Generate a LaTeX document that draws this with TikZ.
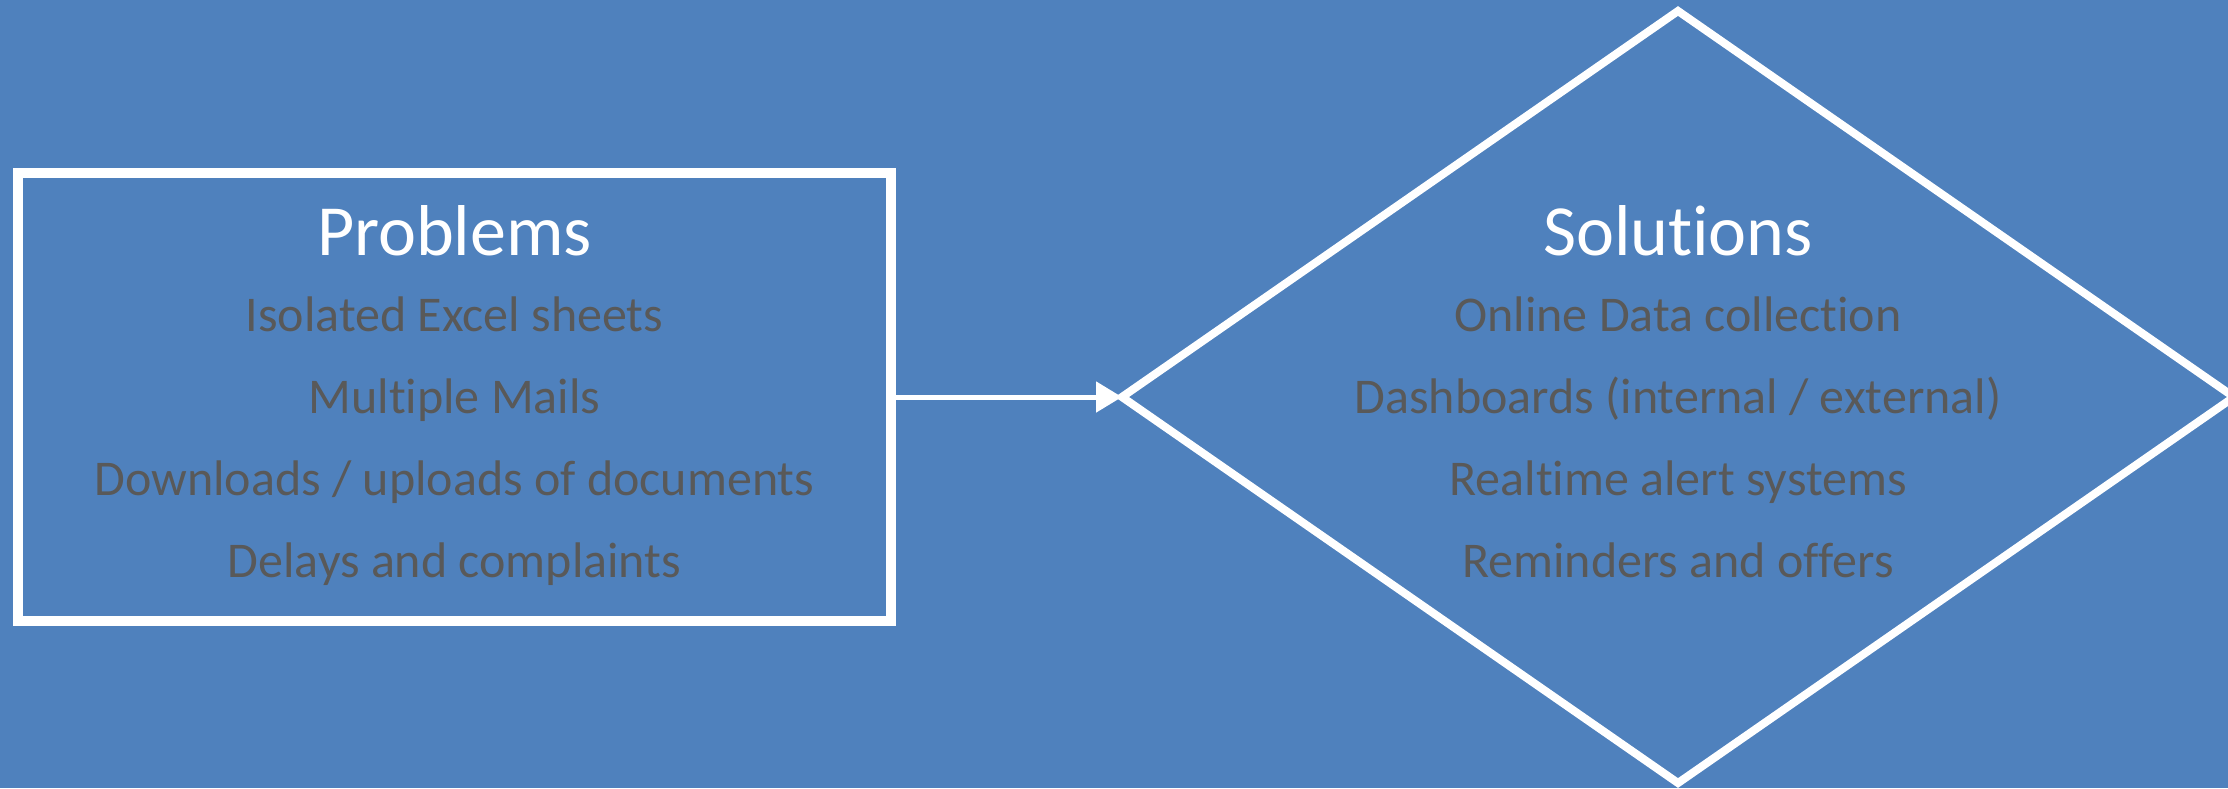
\documentclass[tikz,border=0pt]{standalone}
\usepackage{fontspec}
\setmainfont{Carlito}[Ligatures=NoCommon]
\usetikzlibrary{arrows.meta}
\definecolor{bg}{HTML}{4F81BD}
\definecolor{txt}{HTML}{595959}
\begin{document}
\begin{tikzpicture}[x=0.5pt,y=-0.5pt,
  box/.style={draw=white, line width=5pt, minimum width=436.5pt, minimum height=224pt, inner sep=0pt},
  title/.style={text=white, font=\fontsize{36}{40}\selectfont, anchor=base, inner sep=0pt},
  item/.style={text=txt, font=\fontsize{25}{29}\selectfont, anchor=base, inner sep=0pt},
  conn/.style={draw=white, line width=2.5pt, -{Triangle[length=13pt,width=15pt]}},
  dia/.style={draw=white, line width=4pt, line join=miter}]
\fill[bg] (0,0) rectangle (2228,788);
\clip (0,0) rectangle (2228,788);
% Problems box
\node[box] (prob) at (454.5,397) {};
\node[title] (pt) at (454.5,255) {Problems};
\node[item] (p1) at (454.5,331) {Isolated Excel sheets};
\node[item] (p2) at (454.5,413) {Multiple Mails};
\node[item] (p3) at (454.5,495) {Downloads / uploads of documents};
\node[item] (p4) at (454.5,577) {Delays and complaints};
% Solutions diamond
\coordinate (dt) at (1678,11);
\coordinate (de) at (2234,397);
\coordinate (db) at (1678,783);
\coordinate (dw) at (1122,397);
\draw[dia] (dt) -- (de) -- (db) -- (dw) -- cycle;
\node[title] (st) at (1678,255) {Solutions};
\node[item] (s1) at (1678,331) {Online Data collection};
\node[item] (s2) at (1678,413) {Dashboards (internal / external)};
\node[item] (s3) at (1678,495) {Realtime alert systems};
\node[item] (s4) at (1678,577) {Reminders and offers};
% connector
\draw[conn] (prob.east) -- (dw);
\end{tikzpicture}
\end{document}
